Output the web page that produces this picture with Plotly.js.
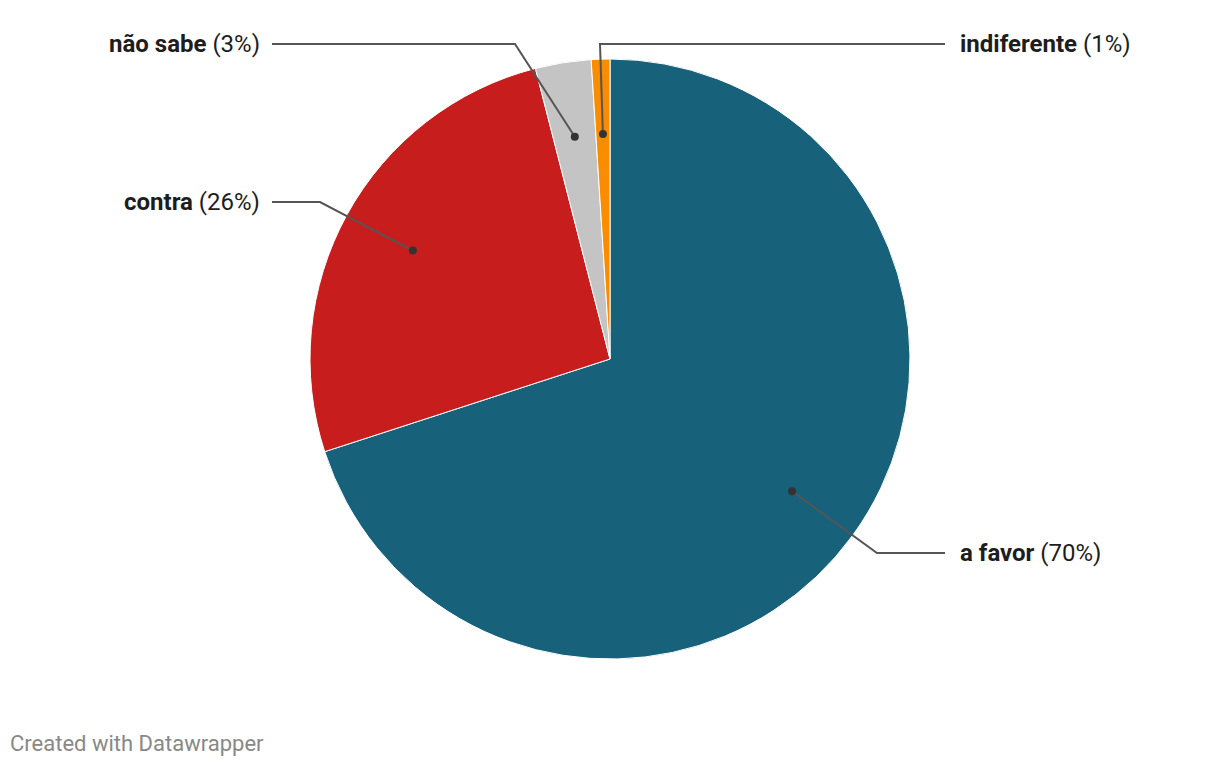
<!DOCTYPE html>
<html><head><meta charset="utf-8">
<script src="https://cdn.plot.ly/plotly-3.0.1.min.js"></script>
<style>html,body{margin:0;padding:0;background:#fff;}#chart{width:1220px;height:766px;}</style>
</head><body><div id="chart"></div>
<script>
// Data
const categories = ["a favor", "contra", "não sabe", "indiferente"];
const values = [70, 26, 3, 1];
const colors = ["#17617a", "#c71e1d", "#c4c4c4", "#fa8c00"];

// Label layout (pixel positions of leader elbows and label rows)
const labelSide = ["right", "left", "left", "right"];
const elbowX = [877, 320, 515, 600];
const labelY = [553, 202, 44, 44];

const W = 1220, H = 766;
const cx = 610, cy = 359, R = 300;
const px = x => x / W, py = y => 1 - y / H;

const total = values.reduce((a, b) => a + b, 0);
const shapes = [], annotations = [];
let cum = 0;
values.forEach((v, i) => {
  const mid = (cum + v / 2) / total * 2 * Math.PI;
  cum += v;
  const dx = cx + 0.75 * R * Math.sin(mid);
  const dy = cy - 0.75 * R * Math.cos(mid);
  const endX = labelSide[i] === "right" ? 945 : 272;
  shapes.push({type: "path", xref: "paper", yref: "paper",
    path: `M ${px(dx)},${py(dy)} L ${px(elbowX[i])},${py(labelY[i])} L ${px(endX)},${py(labelY[i])}`,
    line: {color: "#555", width: 2}});
  shapes.push({type: "circle", xref: "paper", yref: "paper",
    x0: px(dx - 4), x1: px(dx + 4), y0: py(dy + 4), y1: py(dy - 4),
    fillcolor: "#333", line: {width: 0}});
  const pct = Math.round(v / total * 100);
  annotations.push({xref: "paper", yref: "paper", showarrow: false,
    x: px(labelSide[i] === "right" ? 958 : 262), y: py(labelY[i]),
    xanchor: labelSide[i] === "right" ? "left" : "right", yanchor: "middle",
    text: `<b>${categories[i]}</b> (${pct}%)`,
    font: {family: "Roboto", size: 24, color: "#1d1d1d"}});
});
annotations.push({xref: "paper", yref: "paper", showarrow: false,
  x: px(8), y: py(743), xanchor: "left", yanchor: "middle",
  text: "Created with Datawrapper",
  font: {family: "Roboto", size: 22, color: "#888"}});

const trace = {
  type: "pie", labels: categories, values: values, sort: false,
  direction: "clockwise", rotation: 0, textinfo: "none", hoverinfo: "label+percent",
  marker: {colors: colors, line: {color: "#fff", width: 1}},
  domain: {x: [px(cx - R), px(cx + R)], y: [py(cy + R), py(cy - R)]},
  showlegend: false
};
Plotly.newPlot("chart", [trace], {
  width: W, height: H, margin: {l: 0, r: 0, t: 0, b: 0},
  paper_bgcolor: "#fff", showlegend: false, shapes, annotations,
  font: {family: "Roboto"}
}, {displayModeBar: false, staticPlot: true});
</script></body></html>
